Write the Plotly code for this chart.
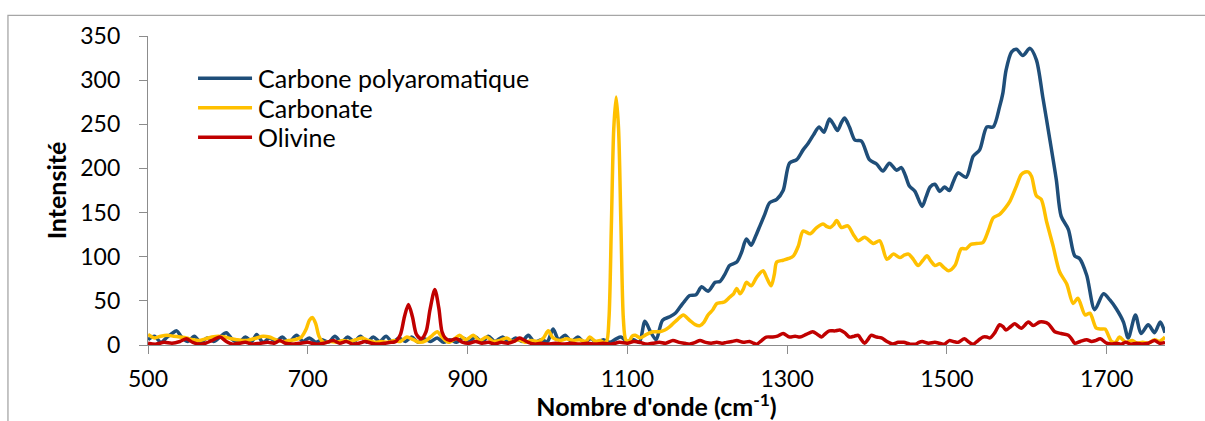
import plotly.graph_objects as go

# Raman spectra: wavenumber (cm-1) and intensity for each phase
carbone_x = [500, 508, 516, 524, 530, 536, 542, 550, 558, 566, 574, 582, 590, 598, 606, 614, 622, 630, 636, 644,
             652, 660, 668, 676, 686, 694, 702, 710, 718, 726, 734, 742, 750, 758, 766, 774, 782, 790, 798, 806,
             814, 822, 830, 838, 846, 854, 862, 870, 878, 886, 894, 902, 910, 918, 926, 934, 944, 952, 960, 968,
             976, 984, 992, 1000, 1007, 1014, 1022, 1030, 1038, 1046, 1054, 1062, 1070, 1078, 1086, 1092, 1100,
             1108, 1115, 1122, 1129, 1136, 1144, 1153, 1160, 1166, 1172, 1178, 1186, 1193, 1201, 1210, 1216, 1222,
             1228, 1237, 1243, 1249, 1255, 1260, 1266, 1272, 1278, 1287, 1295, 1303, 1312, 1320, 1326, 1333, 1340,
             1346, 1353, 1358, 1363, 1368, 1372, 1378, 1385, 1393, 1403, 1412, 1420, 1428, 1437, 1443, 1448, 1453,
             1460, 1469, 1474, 1479, 1485, 1491, 1497, 1503, 1508, 1514, 1524, 1533, 1541, 1550, 1558, 1566, 1570,
             1574, 1581, 1587, 1595, 1604, 1612, 1620, 1629, 1637, 1643, 1652, 1660, 1666, 1675, 1685, 1696, 1704,
             1712, 1721, 1727, 1736, 1743, 1752, 1760, 1767, 1773]
carbone_y = [6, 10, 3, 9, 13, 16, 9, 4, 10, 3, 8, 4, 9, 14, 6, 3, 9, 4, 12, 3,
             8, 4, 9, 3, 11, 4, 8, 3, 6, 3, 10, 3, 9, 4, 10, 3, 9, 4, 10, 3,
             8, 4, 9, 3, 7, 4, 8, 3, 6, 3, 8, 4, 9, 3, 10, 4, 9, 3, 8, 4,
             11, 3, 6, 4, 18, 6, 11, 4, 9, 3, 7, 3, 6, 3, 7, 9, 4,
             6, 3, 27, 15, 6, 28, 32, 36, 43, 50, 56, 57, 66, 61, 71, 72, 80,
             90, 94, 105, 120, 113, 122, 135, 148, 161, 165, 175, 206, 210, 221, 228, 238, 247,
             241, 256, 250, 243, 252, 257, 247, 232, 231, 210, 205, 197, 206, 198, 201, 192, 180,
             174, 157, 168, 179, 182, 174, 179, 175, 185, 195, 190, 214, 221, 247, 247, 270, 285,
             311, 332, 335, 328, 336, 323, 281, 232, 187, 146, 131, 101, 98, 79, 40, 58, 51,
             41, 26, 8, 34, 13, 23, 14, 26, 14]

carbonate_x = [500, 508, 516, 524, 532, 540, 548, 556, 564, 572, 580, 588, 596, 604, 612, 620, 628, 636, 644, 652,
               660, 668, 676, 684, 692, 698, 702, 706, 710, 714, 720, 728, 736, 744, 752, 760, 768, 776, 784, 792,
               800, 808, 816, 824, 832, 840, 848, 856, 862, 868, 876, 884, 890, 898, 907, 915, 924, 932, 940, 949,
               956, 964, 972, 980, 988, 995, 1001, 1007, 1016, 1024, 1032, 1040, 1048, 1053, 1060, 1066, 1070, 1074,
               1077, 1080, 1083, 1086, 1089, 1092, 1095, 1098, 1102, 1106, 1110, 1116, 1124, 1132, 1140, 1147, 1152,
               1157, 1163, 1170, 1178, 1185, 1191, 1196, 1201, 1207, 1212, 1218, 1222, 1228, 1233, 1237, 1241, 1245,
               1249, 1255, 1262, 1270, 1274, 1280, 1284, 1287, 1295, 1302, 1308, 1314, 1320, 1329, 1337, 1345, 1350,
               1354, 1358, 1362, 1368, 1376, 1383, 1389, 1397, 1408, 1416, 1425, 1433, 1441, 1447, 1452, 1458, 1464,
               1470, 1475, 1480, 1485, 1491, 1496, 1502, 1510, 1518, 1524, 1530, 1537, 1545, 1552, 1558, 1566, 1573,
               1579, 1587, 1593, 1598, 1602, 1606, 1612, 1618, 1625, 1633, 1641, 1650, 1658, 1664, 1673, 1679, 1687,
               1693, 1698, 1706, 1711, 1716, 1724, 1732, 1738, 1745, 1752, 1760, 1766, 1773]
carbonate_y = [12, 8, 10, 11, 10, 9, 8, 6, 5, 7, 9, 10, 9, 7, 6, 5, 6, 8, 10, 9,
               6, 4, 5, 6, 9, 18, 28, 31, 24, 10, 3, 4, 3, 5, 4, 6, 8, 5, 3, 4,
               3, 5, 4, 9, 6, 3, 5, 11, 15, 9, 3, 7, 11, 6, 11, 5, 9, 4, 5, 8,
               4, 6, 3, 5, 4, 8, 16, 8, 5, 7, 5, 6, 4, 9, 4, 5, 3, 4,
               30, 135, 245, 281, 245, 135, 30, 6, 4, 10, 11, 8, 12, 15, 15, 17, 20,
               24, 29, 34, 28, 23, 22, 26, 34, 40, 47, 48, 49, 54, 58, 64, 58, 63,
               71, 67, 77, 84, 77, 67, 80, 94, 96, 98, 101, 112, 129, 126, 133, 137, 134,
               133, 136, 141, 133, 135, 125, 118, 122, 115, 118, 97, 103, 99, 102, 103, 97, 90,
               96, 101, 95, 90, 92, 88, 84, 90, 109, 109, 114, 115, 116, 130, 144, 148, 155,
               163, 180, 193, 196, 196, 191, 169, 165, 139, 112, 83, 69, 47, 53, 34, 36, 19,
               18, 18, 4, 3, 9, 3, 5, 2, 3, 2, 6, 4, 9]

olivine_x = [500, 510, 520, 530, 540, 548, 556, 564, 572, 580, 590, 598, 606, 614, 622, 630, 640, 650, 658, 665,
             672, 680, 690, 700, 710, 720, 732, 740, 748, 756, 764, 772, 780, 788, 796, 804, 810, 816, 821, 826,
             831, 836, 842, 848, 853, 859, 864, 868, 872, 878, 886, 894, 902, 910, 918, 926, 934, 942, 950, 958,
             965, 970, 976, 984, 992, 1000, 1010, 1020, 1030, 1040, 1050, 1060, 1070, 1080, 1090, 1100, 1108, 1116,
             1124, 1132, 1140, 1148, 1157, 1165, 1172, 1178, 1185, 1191, 1198, 1205, 1212, 1218, 1224, 1231, 1237,
             1245, 1253, 1258, 1262, 1268, 1274, 1282, 1288, 1295, 1303, 1310, 1316, 1324, 1332, 1338, 1343, 1348,
             1353, 1360, 1366, 1372, 1378, 1384, 1389, 1393, 1397, 1401, 1405, 1412, 1418, 1425, 1432, 1439, 1446,
             1454, 1461, 1465, 1469, 1477, 1485, 1491, 1497, 1503, 1508, 1514, 1522, 1528, 1533, 1539, 1545, 1550,
             1554, 1560, 1566, 1570, 1574, 1580, 1585, 1593, 1602, 1608, 1616, 1621, 1627, 1635, 1643, 1652, 1656,
             1660, 1667, 1675, 1681, 1686, 1692, 1700, 1706, 1712, 1718, 1724, 1730, 1738, 1745, 1752, 1760, 1766,
             1773]
olivine_y = [2, 1, 3, 2, 4, 7, 3, 1, 2, 5, 9, 4, 1, 2, 3, 1, 2, 3, 2, 5,
             2, 1, 2, 3, 1, 2, 5, 2, 4, 1, 2, 4, 2, 1, 2, 3, 4, 12, 32, 46,
             32, 12, 7, 15, 40, 63, 42, 15, 8, 5, 7, 3, 2, 4, 2, 3, 1, 3, 2, 4,
             8, 6, 3, 1, 2, 1, 2, 1, 2, 1, 2, 1, 2, 1, 3, 2, 4, 3,
             1, 2, 3, 2, 5, 3, 2, 1, 3, 5, 3, 2, 3, 2, 3, 4, 5,
             3, 4, 2, 1, 5, 9, 9, 10, 13, 9, 10, 9, 12, 15, 12, 9, 13,
             16, 16, 17, 14, 9, 10, 11, 6, 2, 6, 11, 9, 8, 4, 1, 3, 3,
             1, 1, 3, 4, 2, 3, 2, 1, 5, 4, 3, 7, 3, 1, 5, 9, 9,
             8, 14, 23, 21, 17, 21, 24, 19, 26, 22, 26, 26, 24, 15, 13, 11, 7,
             2, 4, 6, 4, 5, 7, 2, 1, 2, 1, 3, 1, 2, 1, 2, 5, 2,
             3]

series_names = ["Carbone polyaromatique", "Carbonate", "Olivine"]
series_colors = ["#1F4E79", "#FFC000", "#C00000"]

x_ticks = [500, 700, 900, 1100, 1300, 1500, 1700]
y_ticks = [0, 50, 100, 150, 200, 250, 300, 350]

FONT = "Lato"
AXIS_GREY = "#8C8C8C"

fig = go.Figure()
for name, xs, ys, col in zip(series_names,
                             [carbone_x, carbonate_x, olivine_x],
                             [carbone_y, carbonate_y, olivine_y],
                             series_colors):
    fig.add_trace(go.Scatter(
        x=xs, y=ys, name=name, mode="lines", showlegend=False,
        line=dict(color=col, width=3.5, shape="spline", smoothing=0.8),
    ))

# Legend drawn as line swatches + labels in paper coordinates
legend_x0, legend_x1, legend_text_x = 0.0492, 0.1023, 0.1062
legend_rows_y = [0.8634, 0.7680, 0.6727]
shapes = [dict(
    type="rect", xref="paper", yref="paper",
    x0=-0.1377, x1=1.3, y0=-0.5, y1=1.0666,
    line=dict(color="#A6A6A6", width=1.3), fillcolor="rgba(0,0,0,0)",
    layer="below",
)]
annotations = []
for name, col, yy in zip(series_names, series_colors, legend_rows_y):
    shapes.append(dict(type="line", xref="paper", yref="paper",
                       x0=legend_x0, x1=legend_x1, y0=yy, y1=yy,
                       line=dict(color=col, width=3.5)))
    annotations.append(dict(xref="paper", yref="paper", x=legend_text_x, y=yy,
                            xanchor="left", yanchor="middle", showarrow=False,
                            text=name, font=dict(family=FONT, size=25, color="black")))

fig.update_layout(
    width=1205, height=421,
    margin=dict(l=148, r=40, t=36, b=74),
    paper_bgcolor="white", plot_bgcolor="white",
    font=dict(family=FONT, color="black", size=23),
    showlegend=False,
    shapes=shapes,
    annotations=annotations,
)

fig.update_xaxes(
    range=[500, 1773], tickvals=x_ticks, ticktext=[str(v) for v in x_ticks],
    ticks="outside", ticklen=8, tickcolor=AXIS_GREY, tickwidth=1.3,
    showline=True, linecolor=AXIS_GREY, linewidth=1.3,
    showgrid=False, zeroline=False,
    tickfont=dict(family=FONT, size=23, color="black"),
    ticklabelstandoff=5,
    title=dict(text="<b>Nombre d'onde (cm<sup>-1</sup>)</b>",
               font=dict(family=FONT, size=25, color="black"), standoff=0),
)
fig.update_yaxes(
    range=[0, 350], tickvals=y_ticks, ticktext=[str(v) for v in y_ticks],
    ticks="outside", ticklen=8, tickcolor=AXIS_GREY, tickwidth=1.3,
    showline=True, linecolor=AXIS_GREY, linewidth=1.3,
    showgrid=False, zeroline=False,
    tickfont=dict(family=FONT, size=23, color="black"),
    ticklabelstandoff=14,
    title=dict(text="<b>Intensité</b>",
               font=dict(family=FONT, size=25, color="black"), standoff=6),
)

fig.write_html("out.html")
